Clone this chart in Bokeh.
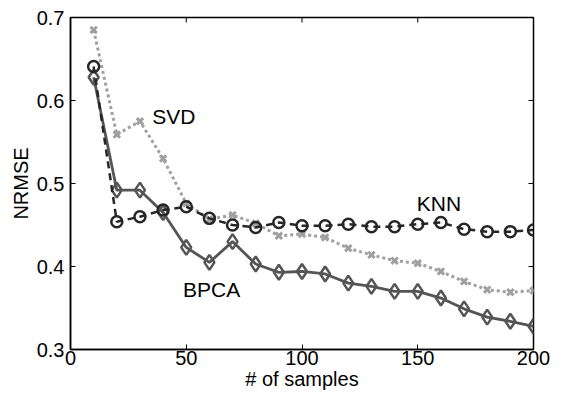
import math
from bokeh.plotting import figure
from bokeh.models import Range1d, FixedTicker, Label
from bokeh.embed import file_html
from bokeh.resources import INLINE

# ---- data ----
samples = [10, 20, 30, 40, 50, 60, 70, 80, 90, 100,
           110, 120, 130, 140, 150, 160, 170, 180, 190, 200]
knn = [0.641, 0.454, 0.460, 0.468, 0.472, 0.458, 0.450, 0.447, 0.453, 0.449,
       0.449, 0.451, 0.448, 0.448, 0.451, 0.453, 0.445, 0.442, 0.442, 0.444]
svd = [0.685, 0.559, 0.575, 0.530, 0.476, 0.457, 0.462, 0.452, 0.437, 0.439,
       0.435, 0.422, 0.414, 0.407, 0.404, 0.394, 0.382, 0.372, 0.369, 0.371]
bpca = [0.628, 0.492, 0.492, 0.465, 0.423, 0.405, 0.430, 0.403, 0.393, 0.394,
        0.391, 0.380, 0.376, 0.370, 0.370, 0.362, 0.349, 0.339, 0.334, 0.328]
x_ticks = [0, 50, 100, 150, 200]
y_ticks = [0.3, 0.4, 0.5, 0.6, 0.7]

FONT = "Liberation Sans"

p = figure(width=551, height=392, output_backend="svg", toolbar_location=None,
           x_range=Range1d(x_ticks[0], x_ticks[-1]), y_range=Range1d(y_ticks[0], y_ticks[-1]),
           min_border_left=70, min_border_right=18, min_border_top=17, min_border_bottom=42)
p.background_fill_color = "white"
p.border_fill_color = "white"
p.grid.visible = False
p.outline_line_color = "black"
p.outline_line_width = 1.5

# series
p.line(samples, svd, line_color="#a0a0a0", line_width=3, line_dash="3 3")
p.scatter(samples, svd, marker="x", size=9, line_color="#a0a0a0", line_width=3)

p.line(samples, bpca, line_color="#555555", line_width=2.8)
p.scatter(samples, bpca, marker="diamond", size=15, line_color="#555555",
          line_width=2.5, fill_alpha=0)

p.line(samples, knn, line_color="#262626", line_width=2.5, line_dash="7 5")
p.scatter(samples, knn, marker="circle", size=11, line_color="#262626",
          line_width=2.5, fill_alpha=0)

# inward ticks on the top and right edges of the box
p.scatter(x_ticks, [y_ticks[-1]] * len(x_ticks), marker="dash", angle=math.pi / 2,
          size=10, line_color="black", line_width=1)
p.scatter([x_ticks[-1]] * len(y_ticks), y_ticks, marker="dash",
          size=10, line_color="black", line_width=1)

# axes
for ax in (p.xaxis[0], p.yaxis[0]):
    ax.axis_line_color = "black"
    ax.axis_line_width = 1.5
    ax.major_tick_in = 5
    ax.major_tick_out = 0
    ax.major_tick_line_width = 1
    ax.minor_tick_line_color = None
    ax.major_label_text_font = FONT
    ax.major_label_text_font_size = "20px"
    ax.major_label_text_color = "black"
    ax.axis_label_text_font = FONT
    ax.axis_label_text_font_size = "20px"
    ax.axis_label_text_font_style = "normal"
    ax.axis_label_text_color = "black"

p.xaxis[0].ticker = FixedTicker(ticks=x_ticks)
p.yaxis[0].ticker = FixedTicker(ticks=y_ticks)
p.xaxis[0].axis_label = "# of samples"
p.yaxis[0].axis_label = "NRMSE"
p.xaxis[0].major_label_standoff = 1
p.xaxis[0].axis_label_standoff = 0
p.yaxis[0].major_label_standoff = 6
p.yaxis[0].axis_label_standoff = 2

# annotations
for txt, xx, yy in (("SVD", 35.3, 0.5805), ("KNN", 149.6, 0.476), ("BPCA", 48.6, 0.3725)):
    p.add_layout(Label(x=xx, y=yy, text=txt, text_font=FONT, text_font_size="21px",
                       text_color="black", text_baseline="middle", text_align="left"))

open("out.html", "w").write(file_html(p, INLINE))
